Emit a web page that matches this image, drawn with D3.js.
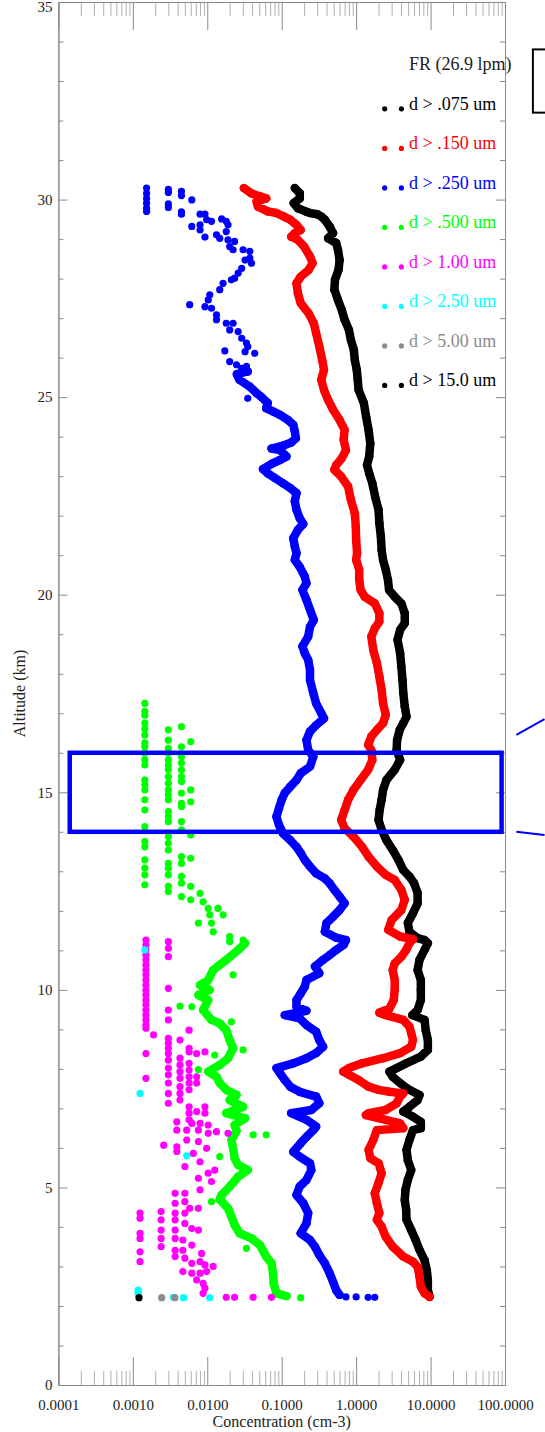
<!DOCTYPE html>
<html>
<head>
<meta charset="utf-8">
<script src="https://cdn.jsdelivr.net/npm/d3@7/dist/d3.min.js"></script>
<style>
  body { margin: 0; background: #fff; }
  svg { display: block; font-family: "Liberation Serif", "Times New Roman", serif; }
</style>
</head>
<body>
<div id="main"></div>
<script>
// ---- data: [altitude km, concentration cm-3] ----
const xTickValues = [0.0001, 0.001, 0.01, 0.1, 1, 10, 100];
const xTickLabels = ['0.0001', '0.0010', '0.0100', '0.1000', '1.0000', '10.0000', '100.0000'];
const yTickValues = [0, 5, 10, 15, 20, 25, 30, 35];

const legendTitle = 'FR (26.9 lpm)';
const legendLabels = ['d > .075 um', 'd > .150 um', 'd > .250 um', 'd > .500 um',
                      'd > 1.00 um', 'd > 2.50 um', 'd > 5.00 um', 'd > 15.0 um'];
const legendColors = ['#000000', '#ff0000', '#0000ff', '#00ff00', '#ff00ff', '#00ffff', '#8c8c8c', '#000000'];

const black075 = [[30.29,0.15],[30.16,0.175],[30.03,0.175],[29.91,0.145],[29.78,0.165],[29.70,0.21],[29.66,0.24],[29.63,0.30],[29.57,0.34],[29.49,0.38],[29.32,0.44],[29.15,0.49],[29.02,0.42],[28.90,0.54],[28.73,0.57],[28.47,0.60],[28.22,0.58],[27.97,0.52],[27.72,0.51],[27.46,0.57],[27.21,0.64],[26.96,0.70],[26.70,0.80],[26.45,0.85],[26.20,0.93],[25.94,0.96],[25.69,1.02],[25.44,1.05],[25.18,1.08],[24.85,1.27],[24.51,1.36],[24.17,1.47],[23.83,1.55],[23.50,1.50],[23.28,1.40],[23.07,1.50],[22.82,1.65],[22.48,1.80],[22.15,2.0],[21.81,2.05],[21.47,2.15],[21.13,2.2],[20.88,2.3],[20.63,2.5],[20.37,2.68],[20.12,2.77],[19.95,3.3],[19.78,4.05],[19.53,4.5],[19.28,4.5],[19.11,3.9],[18.86,3.6],[18.52,3.9],[18.18,4.05],[17.84,4.2],[17.51,4.3],[17.17,4.5],[16.91,4.75],[16.75,4.3],[16.58,3.85],[16.32,3.55],[16.07,3.5],[15.82,3.9],[15.57,3.3],[15.31,2.55],[15.06,2.3],[14.81,2.2],[14.55,2.07],[14.30,2.0],[14.05,2.2],[13.79,2.55],[13.54,3.1],[13.29,3.7],[13.03,4.3],[12.87,5.2],[12.70,6.0],[12.45,6.7],[12.19,6.7],[11.94,5.8],[11.69,4.95],[11.47,5.2],[11.31,6.7],[11.26,8.3],[11.18,9.2],[11.01,8.3],[10.76,7.1],[10.50,6.7],[10.25,7.4],[10.00,7.4],[9.74,7.4],[9.49,6.7],[9.36,5.7],[9.24,8.3],[8.98,8.6],[8.73,9.2],[8.48,9.2],[8.31,7.4],[8.14,4.7],[8.02,3.5],[7.93,2.8],[7.80,3.1],[7.64,3.9],[7.47,5.2],[7.34,7.1],[7.21,6.7],[7.04,5.2],[6.92,4.3],[6.79,5.8],[6.66,7.4],[6.50,7.4],[6.45,5.8],[6.20,5.2],[5.95,4.75],[5.69,4.95],[5.44,5.5],[5.19,4.95],[4.94,4.6],[4.68,4.5],[4.43,4.7],[4.18,4.75],[3.92,5.5],[3.67,6.3],[3.42,7.1],[3.16,8.3],[2.91,8.9],[2.66,9.2],[2.40,9.2],[2.23,9.7]];

const red150 = [[30.29,0.031],[30.16,0.039],[30.08,0.051],[30.03,0.062],[29.95,0.046],[29.82,0.048],[29.70,0.065],[29.66,0.085],[29.57,0.107],[29.49,0.13],[29.36,0.158],[29.23,0.18],[29.15,0.15],[29.06,0.134],[28.98,0.165],[28.81,0.20],[28.56,0.24],[28.39,0.26],[28.22,0.23],[28.05,0.18],[27.88,0.158],[27.63,0.165],[27.38,0.18],[27.12,0.23],[26.87,0.27],[26.62,0.29],[26.28,0.32],[25.94,0.35],[25.69,0.37],[25.44,0.34],[25.18,0.37],[24.93,0.42],[24.68,0.49],[24.42,0.60],[24.17,0.70],[23.92,0.68],[23.66,0.73],[23.45,0.64],[23.28,0.54],[23.16,0.51],[22.99,0.63],[22.74,0.78],[22.40,0.85],[22.06,0.96],[21.72,0.99],[21.39,1.0],[21.05,1.03],[20.88,1.0],[20.63,1.1],[20.37,1.1],[20.12,1.15],[19.95,1.3],[19.78,1.78],[19.53,2.05],[19.32,2.05],[19.15,1.78],[18.94,1.6],[18.60,1.7],[18.27,1.9],[17.93,2.05],[17.59,2.2],[17.25,2.3],[16.96,2.5],[16.75,2.3],[16.58,1.9],[16.41,1.6],[16.20,1.45],[16.07,1.6],[15.82,1.65],[15.57,1.45],[15.31,1.15],[15.06,0.92],[14.81,0.78],[14.55,0.70],[14.30,0.63],[14.09,0.70],[13.88,0.92],[13.62,1.2],[13.37,1.47],[13.12,1.9],[12.91,2.5],[12.78,3.3],[12.53,4.05],[12.28,4.5],[12.02,4.05],[11.77,3.0],[11.52,2.7],[11.35,3.9],[11.28,5.8],[11.18,5.2],[11.01,4.7],[10.84,4.05],[10.67,3.3],[10.50,3.1],[10.25,3.3],[10.00,3.3],[9.74,3.2],[9.53,2.8],[9.42,2.05],[9.36,2.5],[9.24,4.3],[9.07,5.2],[8.90,5.5],[8.73,5.8],[8.56,5.5],[8.40,3.9],[8.27,2.3],[8.14,1.2],[8.02,0.8],[7.93,0.67],[7.85,0.8],[7.72,1.08],[7.55,1.47],[7.47,2.0],[7.42,2.8],[7.38,4.3],[7.30,3.9],[7.13,3.5],[6.96,2.5],[6.88,1.47],[6.83,1.35],[6.71,2.5],[6.62,3.9],[6.50,4.3],[6.45,1.9],[6.20,1.7],[5.95,1.47],[5.74,1.55],[5.61,2.0],[5.36,2.2],[5.11,2.0],[4.85,1.78],[4.60,1.9],[4.35,2.05],[4.18,1.9],[4.01,2.2],[3.75,2.5],[3.50,3.1],[3.25,4.3],[3.12,5.8],[2.99,6.7],[2.74,7.1],[2.49,7.4],[2.32,8.3],[2.23,9.7]];

const blue250 = [[25.65,0.035],[25.58,0.025],[25.44,0.027],[25.27,0.037],[25.10,0.046],[25.01,0.053],[24.85,0.065],[24.72,0.062],[24.64,0.076],[24.55,0.095],[24.42,0.122],[24.30,0.143],[24.13,0.15],[23.96,0.155],[23.85,0.134],[23.77,0.104],[23.70,0.073],[23.66,0.095],[23.50,0.116],[23.41,0.095],[23.31,0.073],[23.18,0.056],[23.07,0.065],[22.96,0.08],[22.82,0.104],[22.70,0.13],[22.57,0.158],[22.36,0.15],[22.15,0.158],[21.94,0.174],[21.79,0.195],[21.64,0.165],[21.43,0.143],[21.22,0.15],[21.05,0.158],[20.88,0.15],[20.71,0.174],[20.46,0.204],[20.29,0.215],[20.12,0.19],[19.87,0.215],[19.62,0.24],[19.36,0.27],[19.19,0.24],[18.94,0.227],[18.69,0.19],[18.52,0.204],[18.35,0.227],[18.10,0.24],[17.84,0.24],[17.51,0.266],[17.25,0.29],[17.00,0.34],[16.87,0.37],[16.70,0.29],[16.54,0.24],[16.32,0.215],[16.07,0.227],[15.90,0.266],[15.65,0.24],[15.48,0.18],[15.31,0.158],[15.14,0.13],[14.98,0.11],[14.81,0.10],[14.60,0.092],[14.38,0.085],[14.17,0.092],[13.96,0.104],[13.79,0.13],[13.62,0.158],[13.46,0.18],[13.29,0.204],[13.12,0.24],[12.95,0.29],[12.82,0.38],[12.70,0.44],[12.53,0.51],[12.36,0.60],[12.19,0.70],[12.02,0.60],[11.85,0.49],[11.69,0.40],[11.47,0.38],[11.32,0.54],[11.26,0.73],[11.14,0.68],[11.01,0.54],[10.88,0.44],[10.76,0.36],[10.59,0.28],[10.42,0.32],[10.25,0.215],[10.08,0.204],[9.91,0.18],[9.74,0.158],[9.57,0.158],[9.47,0.215],[9.36,0.11],[9.28,0.174],[9.11,0.215],[8.94,0.29],[8.73,0.32],[8.56,0.36],[8.40,0.29],[8.27,0.215],[8.14,0.143],[8.02,0.085],[7.89,0.095],[7.72,0.11],[7.55,0.13],[7.42,0.174],[7.30,0.29],[7.13,0.32],[6.96,0.25],[6.88,0.134],[6.71,0.215],[6.54,0.29],[6.45,0.266],[6.28,0.215],[6.12,0.18],[5.90,0.143],[5.78,0.174],[5.61,0.24],[5.44,0.25],[5.19,0.215],[5.02,0.174],[4.81,0.158],[4.60,0.195],[4.35,0.227],[4.09,0.215],[3.84,0.18],[3.67,0.24],[3.50,0.28],[3.29,0.32],[3.08,0.38],[2.83,0.44],[2.61,0.49],[2.40,0.54],[2.28,0.60]];

const blue250Scatter = [[30.29,0.00153],[30.16,0.00153],[30.03,0.00153],[29.91,0.00153],[29.78,0.00153],[29.70,0.00153],[30.26,0.003],[30.18,0.003],[29.89,0.003],[29.80,0.003],[30.21,0.0045],[30.10,0.0045],[29.69,0.0045],[29.63,0.0045],[29.99,0.0062],[29.63,0.0080],[29.63,0.0093],[29.49,0.0098],[29.32,0.0062],[29.36,0.008],[29.23,0.008],[29.45,0.0114],[29.51,0.0156],[29.45,0.018],[29.36,0.019],[29.05,0.0093],[29.11,0.0133],[29.02,0.0147],[29.19,0.018],[28.98,0.019],[28.94,0.0233],[28.81,0.020],[28.73,0.0222],[28.73,0.0303],[28.69,0.0373],[28.52,0.0373],[28.39,0.0392],[28.47,0.0322],[28.26,0.029],[28.14,0.026],[28.01,0.0233],[27.97,0.0211],[27.88,0.0163],[27.72,0.0147],[27.59,0.0108],[27.46,0.0103],[27.34,0.0058],[27.29,0.0093],[27.25,0.0114],[27.08,0.0133],[26.96,0.0133],[26.87,0.018],[26.87,0.0222],[26.70,0.020],[26.66,0.026],[26.49,0.029],[26.37,0.0336],[26.28,0.035],[26.11,0.0434],[26.15,0.0322],[26.17,0.0172],[25.90,0.020],[25.82,0.0247],[25.73,0.029],[25.78,0.0336],[24.97,0.035],[2.23,0.73],[2.23,1.0],[2.22,1.45],[2.22,1.78]];

// main green band, 11.2 km down to the ground
const green500 = [[11.18,0.0322],[11.01,0.026],[10.76,0.018],[10.63,0.0147],[10.50,0.012],[10.25,0.0103],[10.12,0.008],[10.00,0.0108],[9.87,0.0076],[9.74,0.0103],[9.49,0.0088],[9.24,0.0114],[9.15,0.0147],[8.98,0.018],[8.73,0.020],[8.52,0.0222],[8.27,0.019],[8.10,0.0147],[7.93,0.0103],[7.80,0.0133],[7.64,0.0147],[7.47,0.018],[7.34,0.0247],[7.21,0.020],[7.04,0.0303],[6.88,0.018],[6.75,0.0322],[6.58,0.0233],
  [6.43,0.0247],[6.20,0.0211],[5.99,0.0222],[5.74,0.0233],[5.57,0.026],[5.44,0.035],[5.27,0.026],[5.02,0.020],[4.81,0.0156],[4.70,0.0147],[4.47,0.019],[4.26,0.0211],[4.05,0.0233],[3.84,0.0272],[3.71,0.0392],[3.54,0.051],[3.25,0.062],[3.08,0.073],[2.83,0.0764],[2.57,0.078],[2.32,0.085],[2.25,0.116]];

const green500Scatter = [[6.33,0.0413],[6.33,0.062],[5.78,0.0147],[4.64,0.0114],[3.46,0.0336],[2.21,0.18],
  [11.22,0.020],[10.38,0.0222],[9.59,0.0043],[9.57,0.0062],[9.19,0.0211],[8.48,0.0303],[8.35,0.0126],[7.98,0.0076],
  [12.44,0.008],[12.23,0.0088],[12.06,0.0103],[12.06,0.0139],[11.90,0.0108],[11.90,0.0163],[11.69,0.0076],[11.69,0.0114],[11.47,0.012],[11.35,0.020],[11.26,0.0303],
  [17.25,0.00145],[17.05,0.00145],[16.95,0.00145],[16.75,0.00145],[16.60,0.00145],[16.45,0.00145],[16.25,0.00145],[16.15,0.00145],[15.99,0.00145],[15.82,0.00145],[15.69,0.00145],[15.31,0.00145],[15.19,0.00145],[15.06,0.00145],[14.81,0.00145],[14.55,0.00145],[14.13,0.00145],[13.75,0.00145],[13.62,0.00145],[13.29,0.00145],[13.08,0.00145],[12.91,0.00145],[12.66,0.00145],
  [16.58,0.003],[16.32,0.003],[16.11,0.003],[15.99,0.003],[15.82,0.003],[15.69,0.003],[15.57,0.003],[15.40,0.003],[15.23,0.003],[15.06,0.003],[14.93,0.003],[14.81,0.003],[14.51,0.003],[14.38,0.003],[14.26,0.003],[13.88,0.003],[13.71,0.003],[13.54,0.003],[13.20,0.003],[13.08,0.003],[12.91,0.003],[12.62,0.003],[12.49,0.003],
  [16.66,0.0045],[16.15,0.0045],[15.90,0.0045],[15.74,0.0045],[15.57,0.0045],[15.40,0.0045],[15.27,0.0045],[14.98,0.0045],[14.72,0.0045],[14.64,0.0045],[14.26,0.0045],[14.05,0.0045],[13.37,0.0045],[13.20,0.0045],[12.87,0.0045],[12.70,0.0045],[12.36,0.0045],
  [16.28,0.006],[15.06,0.006],[14.76,0.006],[13.92,0.006],[13.33,0.006],[12.62,0.006],[12.28,0.006]];

const magenta100 = [[11.26,0.0015],[11.14,0.0015],[11.01,0.0015],[10.88,0.0015],[10.76,0.0015],[10.63,0.0015],[10.50,0.0015],[10.38,0.0015],[10.25,0.0015],[10.12,0.0015],[9.99,0.0015],[9.87,0.0015],[9.74,0.0015],[9.62,0.0015],[9.49,0.0015],[9.36,0.0015],[9.24,0.0015],[9.11,0.0015],[9.03,0.0015],[8.39,0.0015],[7.76,0.0015],
  [11.22,0.003],[11.05,0.003],[10.84,0.003],[10.04,0.003],[9.49,0.003],[9.24,0.003],[8.77,0.003],[8.65,0.003],[8.52,0.003],[8.39,0.003],[8.22,0.003],[8.02,0.003],[7.85,0.003],[7.64,0.003],[7.38,0.003],[7.13,0.003],
  [8.86,0.0019],[8.73,0.0043],[8.27,0.0043],[8.10,0.0043],[7.93,0.0043],[7.76,0.0043],[7.55,0.0043],[7.38,0.0043],[7.21,0.0043],
  [8.98,0.0057],[8.52,0.0057],[8.43,0.0057],[8.14,0.0057],[7.97,0.0057],[7.80,0.0057],[7.64,0.0057],[7.47,0.0057],[7.04,0.0057],[6.88,0.0057],[6.71,0.0057],
  [8.39,0.0072],[7.80,0.0072],[7.64,0.0072],[6.92,0.0072],[8.43,0.0093],[7.04,0.0093],[6.88,0.0093],
  [6.66,0.0039],[6.62,0.0062],[6.62,0.008],[6.58,0.0103],
  [6.45,0.0039],[6.45,0.0053],[6.45,0.0076],[6.37,0.0103],[6.41,0.0133],[6.37,0.019],[6.07,0.0026],[6.03,0.0039],[6.20,0.0053],[6.16,0.0076],[5.99,0.0098],[5.91,0.0039],[5.86,0.0065],[5.65,0.008],[5.53,0.005],[5.36,0.0103],[5.44,0.0126],[5.23,0.0076],[5.15,0.0114],[4.94,0.008],[4.85,0.0037],[4.85,0.005],[4.60,0.0037],[4.64,0.005],[4.47,0.0058],[4.47,0.0076],
  [4.35,0.00125],[4.39,0.0024],[4.35,0.0037],[4.35,0.005],[4.22,0.00125],[4.18,0.0024],[4.18,0.0037],[4.09,0.005],[3.96,0.0062],[3.92,0.0076],[3.84,0.00125],[3.92,0.0024],[3.92,0.0037],[3.71,0.00125],[3.71,0.0024],[3.71,0.0037],[3.67,0.0047],[3.54,0.0062],[3.50,0.0024],[3.41,0.0037],[3.41,0.0047],[3.37,0.00125],[3.25,0.0037],[3.21,0.005],[3.33,0.0084],[3.12,0.00125],[3.08,0.0062],[3.12,0.008],[3.04,0.0093],[3.00,0.012],[2.87,0.0047],[2.83,0.0062],[2.83,0.008],[2.87,0.0098],[2.66,0.0072],[2.57,0.0088],[2.45,0.0093],[2.32,0.0088],
  [2.22,0.018],[2.22,0.0233],[2.22,0.0413],[2.22,0.073]];

const cyan250 = [[11.01,0.00145],[7.38,0.00125],[5.80,0.0053],[2.40,0.00118],[2.35,0.00118],[2.30,0.00118],[2.22,0.0035],[2.21,0.0048],[2.21,0.0108]];
const gray500 = [[2.21,0.00244],[2.21,0.00367]];
const black150 = [[2.21,0.00121]];

// the 14-16 km box and the leader lines running off to the right
const boxConc = [1.42e-4, 90];
const boxAlt = [14, 16];
const leaderLines = [[[142, 16.45], [340, 16.85]], [[142, 14.0], [340, 13.92]]];
const cornerBoxConc = [237, 1000];
const cornerBoxAlt = [32.2, 33.8];

const width = 545;
const height = 1432;
const margin = {top: 2, right: 40, bottom: 47, left: 58.4};

const svg = d3.select('#main').append('svg')
    .attr('width', width)
    .attr('height', height);

const x = d3.scaleLog()
    .domain([1e-4, 100])
    .range([margin.left, width - margin.right]);
const y = d3.scaleLinear()
    .domain([0, 35])
    .range([height - margin.bottom, margin.top]);

const axisColor = '#8a8a8a';
const minorColor = '#b0b0b0';

// minor ticks
const minorX = [];
xTickValues.slice(0, -1).forEach((d) => {
    for (let k = 2; k < 10; k++) minorX.push(d * k);
});
const minorY = d3.range(0, 36).filter((d) => d % 5 !== 0);

function styleAxis(g, color) {
    g.select('.domain').attr('stroke', axisColor);
    g.selectAll('.tick line').attr('stroke', color);
    g.selectAll('.tick text')
        .attr('fill', '#222')
        .style('font-family', '"Liberation Serif", serif')
        .style('font-size', '15px');
}

// bottom
svg.append('g')
    .attr('transform', `translate(0, ${y(0)})`)
    .call(d3.axisBottom(x).tickValues(minorX).tickSize(-14).tickSizeOuter(0).tickFormat(''))
    .call((g) => styleAxis(g, minorColor));
svg.append('g')
    .attr('transform', `translate(0, ${y(0)})`)
    .call(d3.axisBottom(x).tickValues(xTickValues).tickSize(-28).tickSizeOuter(0).tickPadding(14)
        .tickFormat((d, i) => xTickLabels[i]))
    .call((g) => styleAxis(g, axisColor));
// top
svg.append('g')
    .attr('transform', `translate(0, ${y(35)})`)
    .call(d3.axisTop(x).tickValues(minorX).tickSize(-14).tickSizeOuter(0).tickFormat(''))
    .call((g) => styleAxis(g, minorColor));
svg.append('g')
    .attr('transform', `translate(0, ${y(35)})`)
    .call(d3.axisTop(x).tickValues(xTickValues).tickSize(-28).tickSizeOuter(0).tickFormat(''))
    .call((g) => styleAxis(g, axisColor));
// left
svg.append('g')
    .attr('transform', `translate(${x(1e-4)}, 0)`)
    .call(d3.axisLeft(y).tickValues(minorY).tickSize(-5).tickSizeOuter(0).tickFormat(''))
    .call((g) => styleAxis(g, axisColor));
svg.append('g')
    .attr('transform', `translate(${x(1e-4)}, 0)`)
    .call(d3.axisLeft(y).tickValues(yTickValues).tickSize(-9).tickSizeOuter(0).tickPadding(6))
    .call((g) => styleAxis(g, axisColor))
    .call((g) => g.selectAll('.tick text').filter((d) => d === 35).attr('dy', '0.64em'));
// right
svg.append('g')
    .attr('transform', `translate(${x(100)}, 0)`)
    .call(d3.axisRight(y).tickValues(minorY).tickSize(-5).tickSizeOuter(0).tickFormat(''))
    .call((g) => styleAxis(g, axisColor));
svg.append('g')
    .attr('transform', `translate(${x(100)}, 0)`)
    .call(d3.axisRight(y).tickValues(yTickValues).tickSize(-9).tickSizeOuter(0).tickFormat(''))
    .call((g) => styleAxis(g, axisColor));

// axis titles
svg.append('text')
    .attr('x', (x(1e-4) + x(100)) / 2)
    .attr('y', 1427)
    .attr('text-anchor', 'middle')
    .style('font-size', '16px')
    .attr('fill', '#222')
    .text('Concentration (cm-3)');
svg.append('text')
    .attr('transform', `translate(25, ${(y(0) + y(35)) / 2}) rotate(-90)`)
    .attr('text-anchor', 'middle')
    .style('font-size', '16px')
    .attr('fill', '#222')
    .text('Altitude (km)');

// data
const r = 3.6;
const lineGen = d3.line()
    .x((d) => x(d[1]))
    .y((d) => y(d[0]));

function drawTrace(series, color) {
    svg.append('path')
        .datum(series)
        .attr('fill', 'none')
        .attr('stroke', color)
        .attr('stroke-width', 8.5)
        .attr('stroke-linejoin', 'round')
        .attr('stroke-linecap', 'round')
        .attr('d', lineGen);
    drawDots(series, color, 4.2);
}

function drawDots(series, color, radius) {
    svg.append('g')
        .selectAll('circle')
        .data(series)
        .enter()
        .append('circle')
        .attr('cx', (d) => x(d[1]))
        .attr('cy', (d) => y(d[0]))
        .attr('r', radius || r)
        .attr('fill', color);
}

drawTrace(black075, legendColors[0]);
drawTrace(red150, legendColors[1]);
drawTrace(blue250, legendColors[2]);
drawDots(blue250Scatter, legendColors[2]);
drawTrace(green500, legendColors[3]);
drawDots(green500Scatter, legendColors[3]);
drawDots(magenta100, legendColors[4]);
drawDots(cyan250, legendColors[5]);
drawDots(gray500, legendColors[6]);
drawDots(black150, legendColors[7]);

// legend
const legendX = x(5.13);
svg.append('text')
    .attr('x', legendX)
    .attr('y', y(33.27))
    .style('font-size', '18px')
    .attr('fill', '#222')
    .text(legendTitle);

const legend = svg.append('g')
    .selectAll('g')
    .data(legendLabels)
    .enter()
    .append('g')
    .attr('transform', (d, i) => `translate(${legendX}, ${y(32.27 - i)})`);
legend.append('text')
    .style('font-size', '18px')
    .attr('fill', (d, i) => legendColors[i])
    .text((d) => d);
legend.selectAll('circle')
    .data((d, i) => [[-24.3, legendColors[i]], [-7.6, legendColors[i]]])
    .enter()
    .append('circle')
    .attr('cx', (d) => d[0])
    .attr('cy', -1)
    .attr('r', 2.6)
    .attr('fill', (d) => d[1]);

// highlight box and leaders
svg.append('rect')
    .attr('x', x(boxConc[0]))
    .attr('y', y(boxAlt[1]))
    .attr('width', x(boxConc[1]) - x(boxConc[0]))
    .attr('height', y(boxAlt[0]) - y(boxAlt[1]))
    .attr('fill', 'none')
    .attr('stroke', '#0000ff')
    .attr('stroke-width', 4.5);

svg.selectAll('line.leader')
    .data(leaderLines)
    .enter()
    .append('line')
    .attr('class', 'leader')
    .attr('x1', (d) => x(d[0][0]))
    .attr('y1', (d) => y(d[0][1]))
    .attr('x2', (d) => x(d[1][0]))
    .attr('y2', (d) => y(d[1][1]))
    .attr('stroke', '#0000ff')
    .attr('stroke-width', 2);

svg.append('rect')
    .attr('x', x(cornerBoxConc[0]))
    .attr('y', y(cornerBoxAlt[1]))
    .attr('width', x(cornerBoxConc[1]) - x(cornerBoxConc[0]))
    .attr('height', y(cornerBoxAlt[0]) - y(cornerBoxAlt[1]))
    .attr('fill', 'none')
    .attr('stroke', '#000')
    .attr('stroke-width', 2);
</script>
</body>
</html>
